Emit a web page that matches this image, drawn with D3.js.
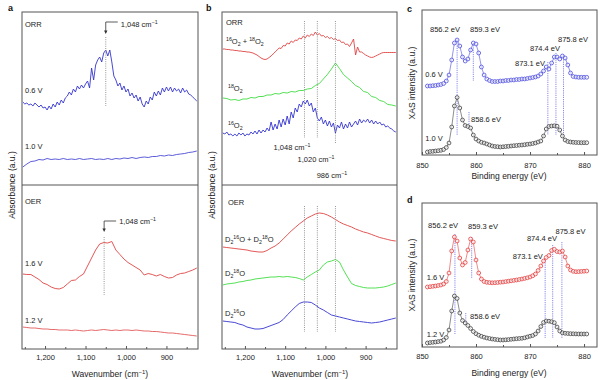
<!DOCTYPE html>
<html><head><meta charset="utf-8">
<script src="https://cdn.jsdelivr.net/npm/d3@7/dist/d3.min.js"></script>
<style>body{margin:0;background:#fff}svg{display:block;font-family:"Liberation Sans",Arial,sans-serif}</style>
</head><body>
<svg id="fig" width="600" height="380"></svg>
<script>
// ---------------- DATA ----------------
const irTicks = [1200, 1100, 1000, 900];
const irMinorTicks = [1250, 1150, 1050, 950, 850];
const xasTicks = [850, 860, 870, 880];
const xasMinorTicks = [855, 865, 875];
const IR_START = 1255;           // cm-1, first sample
const XAS_START = 851;           // eV, first sample
const XAS_STEP = 0.5;

// panel a (ORR), 5 cm-1 steps
const aORR_06V = [83,81,82,80,81,79,82,80,78,80,77,78,75,79,76,81,78,83,80,85,82,87,89,93,90,96,93,99,96,100,97,101,104,97,117,105,120,125,128,123,132,135,129,135,123,109,105,99,102,95,99,93,96,89,92,87,90,84,88,81,78,84,81,88,85,93,89,94,90,97,93,98,94,98,93,97,94,96,92,97,93,95,91,90,88,86,84];
// 10 cm-1 steps
const aORR_10V = [18,21,23.5,24,25.5,25,26.5,25.5,26,25.5,26.5,25.5,26,25.5,26.5,25.5,26,26.5,25.5,26,25.5,26.5,25.5,26.5,26,27,26.5,27.5,26.5,27.5,28,27.5,28.5,28.5,29.5,29,30,29.5,30.5,31,31.5,32.5,33,34];
const aOER_16V = [75,74.5,74.5,72,69.5,66,64.5,62,60.5,60,61.5,65,68.5,69,72.5,75,83,91,99,105,106.5,106,107.5,99,94.5,90,86.5,84,81.5,79,74,75.5,74.5,73,74.5,72.5,71,71.5,74,75.5,76,77.5,79,81];
const aOER_12V = [22,21.5,21,21,20.5,20,20,19.5,19.5,19,19,19,18.5,19,18.5,18,18.5,19,18.5,19,19.5,19,18.5,19,18.5,19,19,18.5,19,18.5,18,18,17.5,17.5,17,16.5,16,16,15.5,15,14.5,14,13.5,13];

// panel b (isotopes)
const bORR_mix = [136,136,135.5,135.5,135,135,134.5,134.5,134,134,133.5,133.5,133,133,132.5,132,131,130,128.5,127,126,125.5,126,127.5,129,131,133,135,
  137,136.5,139.5,139,142,141,144,142.5,145,144.5,147,146,149,147,150,148.5,151,149.5,153,150,151.5,149,149.5,147.5,148.5,146.5,147.5,145.5,146.5,144.5,145,142.5,143,140.5,141,138.5,142,146,130,138,133,
  133,131.5,130,129,128,127.5,128,129,130,131,132,132.5,132.5,132.5,132.5,132.5,132.5,132.5];          // 5 cm-1 steps
const bORR_18 = [87,86.5,85,85.5,84.5,86,86,87.5,87,88.5,88.5,90,90,91.5,91,92.5,92,93.5,93,94.5,94.5,96,96.5,99.5,101.5,106,110.5,116,122,116.5,110.5,107,103.5,99.5,97.5,93.5,92.5,88.5,87.5,84.5,83.5,80.5,80,79]; // 10 cm-1
const bORR_16 = [52,51,53,50,51,49,51,49,52,50,52,49,51,50,53,51,54,51,55,52,55,53,57,54,63,55,61,56,65,58,66,60,69,61,73,67,77,73,81,78,84,81,85,79,82,73,77,67,64,68,61,65,59,64,58,62,52,60,57,63,56,61,57,63,58,61,64,60,66,62,65,63,66,62,65,61,64,61,63,60,61,58,59,57,56,54,53]; // 5 cm-1
const bOER_mix = [102,101.5,101,100.5,100,99.5,99,98,97.5,97,97,98.5,101,103,106,110,114,118,121.5,125,128,131,133,135,136,135.5,134,132,129.5,127,125,123.5,122,120,118.5,117,116,114.5,113,111.5,110.5,109.5,108.5,108];
const bOER_18 = [64,65,65.5,66,67,67.5,68.5,69,70,70.5,71,71.5,72,72,72.5,72,72.5,72,71.5,70.5,69,72,74.5,77,79,84,87,88,89.5,87,79,72,65.5,63.5,62.5,61.5,61,61,61,61.5,62,63,64.5,66];
const bOER_16 = [28,27.5,27,26.5,25,24,22,21,20,20,20.5,22,23.5,25,26.5,29.5,34,38,42,45.5,47,47,46.5,44,41,39,36.5,34,33,32,31,30,29,28,27.5,27,26.5,26,26.5,27,28,29,30,31];
const aMarks = [1050, 1054];                  // dotted lines panel a (ORR, OER)
const bMarks = [1052, 1020, 975];             // dotted lines panel b
const bMarkLabels = ["1,048", "1,020", "986"];

// panel c, d: XAS, 0.5 eV steps from 851 eV
const cXAS_06V = [69,69,69.3,69.5,70,70.5,71.5,74,80,95,112,115,109,98,94,96,105,112,111,102,88,80,76,74.5,73.5,73.5,73.5,74,74,74.5,74.5,75,75,75.5,75.5,76,76,76.5,77,77.5,78,79,81,84,88,86,92,98,98,96,99,97,90,82,78.5,78,77.7,77.7,77.7,77.7];
const cXAS_10V = [3,3.5,3.7,4,4.3,4.7,5.5,7.5,12,28,49,57.5,47,35,29.5,28.5,27,20,16,14,12.7,12,11,10,9,8.5,8.3,8,8.2,8.5,8.7,9,9.3,9.5,9.8,10,10.3,10.7,11,11.5,12,13,14,19,26,28.5,29,29.2,28.8,25,19,15,13.5,13,12.7,12.5,12.4,12.3,12.3,12.3];
const dXAS_16V = [60,60.3,60.7,61,61.5,62,63,65.5,74,96,110,106,89,82,84.5,97,108,105,87,74,68,65.5,64.7,64.4,64.2,64.3,64.5,64.8,65,65.4,65.8,66.2,66.6,67,67.5,68,68.6,69.2,70,71.2,73,76.5,81,86,89.5,91.5,96.5,97.7,95.5,95,96,90,81,77,75.7,75.3,75.4,75.6,75.8,76];
const dXAS_12V = [4,4.4,4.7,5,5.4,5.8,7,9.5,17,36,51,48.5,34,26.5,24,21.5,18.5,15.5,13.3,11.8,10.7,9.8,9,8.5,8,7.6,7.3,7,7,7.2,7.4,7.7,8,8.3,8.5,8.7,9.2,10,10.8,11.5,13,16,20.5,24.5,26,25.8,25.3,24.3,20,16,14.2,13.7,13.5,13.3,13.2,13.1,13,13,13,13];
const peakLabels = ["856.2 eV", "859.3 eV", "858.6 eV", "873.1 eV", "874.4 eV", "875.8 eV"];
const cLineE = [856.5, 859.5, 858.7, 873.3, 874.8, 876.2];
const cLineTop = [116, 112, 43, 93, 102, 100];
const cLineBot = [20, 74, 27, 20, 20, 20];
const cLabelE = [854.26, 861.67, 859.07, 870.0, 872.78, 877.96];
const cLabelV = [123, 123, 33, 89, 104, 113];
const dLineE = [856.1, 859.2, 858.1, 872.8, 874.2, 875.9];
const dLineTop = [113, 110, 34, 89, 102, 105];
const dLineBot = [13, 69, 22, 9, 9, 9];
const dLabelE = [853.9, 861.3, 858.9, 869.6, 872.2, 877.5];
const dLabelV = [119, 118, 28, 88, 106, 113];

// ---------------- DRAWING ----------------
const svg = d3.select("#fig");
svg.append("rect").attr("width", 600).attr("height", 380).attr("fill", "#fff");
const FAM = '"Liberation Sans", Arial, sans-serif';
const TXT = "#222", FRAME = "#555", DOT = "#8a8a8a";
const BLUE = "#3434cf", RED = "#e04444", GREEN = "#3fdc3f", BLACK = "#404040";
const XBLUE = "#4b4be0", XRED = "#e43c3c", XLINE = "#7b7be6";

const irDomain = [1257, 822];
const xa = d3.scaleLinear().domain(irDomain).range([22, 198]);
const xb = d3.scaleLinear().domain(irDomain).range([222, 397]);
const yTop = d3.scaleLinear().domain([0, 173]).range([185, 12]);
const yBot = d3.scaleLinear().domain([0, 164]).range([349, 185]);
const xx = d3.scaleLinear().domain([850, 882.4]).range([422, 597]);
const yc = d3.scaleLinear().domain([0, 145]).range([155, 10]);
const yd = d3.scaleLinear().domain([0, 144]).range([347, 203]);

const pts = (arr, start, step) => arr.map((v, i) => [start + i * step, v]);
function curve(data, x, y, color, w) {
  svg.append("path").datum(data)
    .attr("d", d3.line().x(d => x(d[0])).y(d => y(d[1])))
    .attr("fill", "none").attr("stroke", color).attr("stroke-width", w || 0.9)
    .attr("stroke-linejoin", "round");
}
function rich(x, y, parts, opt) {
  opt = opt || {};
  const fs = opt.size || 7.5;
  const t = svg.append("text").attr("x", x).attr("y", y).attr("fill", TXT)
    .attr("font-size", fs).attr("font-family", FAM)
    .attr("text-anchor", opt.anchor || "start");
  if (opt.rotate) t.attr("transform", `rotate(${opt.rotate},${x},${y})`);
  let shift = 0;
  parts.forEach(p => {
    const s = typeof p === "string" ? p : p[0];
    const k = typeof p === "string" ? "" : p[1];
    const target = k === "sup" ? -fs * 0.38 : k === "sub" ? fs * 0.25 : 0;
    t.append("tspan").attr("dy", target - shift)
      .attr("font-size", k ? fs * 0.7 : fs).text(s);
    shift = target;
  });
  return t;
}
function vdots(x, y0, y1, color, dash) {
  svg.append("line").attr("x1", x).attr("x2", x).attr("y1", y0).attr("y2", y1)
    .attr("stroke", color).attr("stroke-width", 0.9).attr("stroke-dasharray", dash || "1,1.2");
}
function bottomAxis(x, yPos, major, minor, pad, fmt) {
  const g = svg.append("g").attr("transform", `translate(0,${yPos})`);
  g.call(d3.axisBottom(x).tickValues(major).tickFormat(fmt).tickSize(-3).tickPadding(pad));
  const g2 = svg.append("g").attr("transform", `translate(0,${yPos})`);
  g2.call(d3.axisBottom(x).tickValues(minor).tickFormat("").tickSize(-2));
  [g, g2].forEach(gg => {
    gg.select(".domain").remove();
    gg.attr("font-family", FAM).attr("font-size", 7.5);
    gg.selectAll("line").attr("stroke", FRAME);
    gg.selectAll("text").attr("fill", TXT);
  });
}

// ---- panel a ----
curve(pts(aORR_06V, IR_START, -5), xa, yTop, BLUE, 0.9);
curve(pts(aORR_10V, IR_START, -10), xa, yTop, BLUE, 0.8);
curve(pts(aOER_16V, IR_START, -10), xa, yBot, RED, 0.9);
curve(pts(aOER_12V, IR_START, -10), xa, yBot, RED, 0.8);
vdots(xa(aMarks[0]), 37, 106, DOT);
vdots(xa(aMarks[1]), 237, 295, DOT);
// arrows
[[aMarks[0], 22, 34, 27], [aMarks[1], 221, 232, 224]].forEach(([w, yh, tip, base]) => {
  const px = xa(w);
  svg.append("path").attr("d", `M${px + 12},${yh}H${px}V${tip - 3}`)
    .attr("fill", "none").attr("stroke", "#333").attr("stroke-width", 0.8);
  svg.append("path").attr("d", `M${px - 1.7},${tip - 3.5}L${px + 1.7},${tip - 3.5}L${px},${tip}Z`).attr("fill", "#333");
  rich(px + 15, base, ["1,048 cm", ["\u22121", "sup"]]);
});
rich(25, 27, ["ORR"]);
rich(25, 93, ["0.6 V"]);
rich(25, 149, ["1.0 V"]);
rich(25, 204, ["OER"]);
rich(25, 266, ["1.6 V"]);
rich(25, 323, ["1.2 V"]);

// ---- panel b ----
curve(pts(bORR_mix, IR_START, -5), xb, yTop, RED, 0.9);
curve(pts(bORR_18, IR_START, -10), xb, yTop, GREEN, 0.9);
curve(pts(bORR_16, IR_START, -5), xb, yTop, BLUE, 0.9);
curve(pts(bOER_mix, IR_START, -10), xb, yBot, RED, 0.9);
curve(pts(bOER_18, IR_START, -10), xb, yBot, GREEN, 0.9);
curve(pts(bOER_16, IR_START, -10), xb, yBot, BLUE, 0.9);
bMarks.forEach((w, i) => {
  vdots(xb(w), 21, i === 2 ? 144 : 138, DOT);
  vdots(xb(w), 206, 332, DOT);
});
rich(292, 150, [bMarkLabels[0] + " cm", ["\u22121", "sup"]], {anchor: "middle"});
rich(316, 162, [bMarkLabels[1] + " cm", ["\u22121", "sup"]], {anchor: "middle"});
rich(332, 178, [bMarkLabels[2] + " cm", ["\u22121", "sup"]], {anchor: "middle"});
rich(226, 25, ["ORR"]);
rich(226, 44, [["16", "sup"], "O", ["2", "sub"], " + ", ["18", "sup"], "O", ["2", "sub"]]);
rich(228, 91, [["18", "sup"], "O", ["2", "sub"]]);
rich(228, 128, [["16", "sup"], "O", ["2", "sub"]]);
rich(228, 205, ["OER"]);
rich(225, 242, ["D", ["2", "sub"], ["16", "sup"], "O + D", ["2", "sub"], ["18", "sup"], "O"]);
rich(225, 276, ["D", ["2", "sub"], ["18", "sup"], "O"]);
rich(225, 316, ["D", ["2", "sub"], ["16", "sup"], "O"]);

// IR frames, axes, titles
[[22, 176], [222, 175]].forEach(([x0, w]) => {
  svg.append("rect").attr("x", x0).attr("y", 12).attr("width", w).attr("height", 337)
    .attr("fill", "none").attr("stroke", FRAME).attr("stroke-width", 1);
  svg.append("line").attr("x1", x0).attr("x2", x0 + w).attr("y1", 185).attr("y2", 185)
    .attr("stroke", FRAME).attr("stroke-width", 1);
});
bottomAxis(xa, 349, irTicks, irMinorTicks, 6, d3.format(","));
bottomAxis(xb, 349, irTicks, irMinorTicks, 6, d3.format(","));
rich(110, 377, ["Wavenumber (cm", ["\u22121", "sup"], ")"], {anchor: "middle", size: 8.5});
rich(310, 377, ["Wavenumber (cm", ["\u22121", "sup"], ")"], {anchor: "middle", size: 8.5});
rich(15, 185, ["Absorbance (a.u.)"], {anchor: "middle", size: 8.5, rotate: -90});
rich(215, 185, ["Absorbance (a.u.)"], {anchor: "middle", size: 8.5, rotate: -90});

// ---- panels c, d (XAS) ----
function xasSeries(arr, y, color) {
  const d = pts(arr, XAS_START, XAS_STEP);
  curve(d, xx, y, color, 0.6);
  svg.append("g").selectAll("circle").data(d).join("circle")
    .attr("cx", p => xx(p[0])).attr("cy", p => y(p[1])).attr("r", 1.9)
    .attr("fill", "#fff").attr("fill-opacity", 0.6)
    .attr("stroke", color).attr("stroke-width", 0.8);
}
function xasMarks(y, E, top, bot, labE, labV) {
  E.forEach((e, i) => vdots(xx(e), y(top[i]), y(bot[i]), XLINE, "1.2,1"));
  peakLabels.forEach((t, i) => rich(xx(labE[i]), y(labV[i]), [t], {anchor: i === 2 ? "start" : "middle"}));
}
xasMarks(yc, cLineE, cLineTop, cLineBot, cLabelE, cLabelV);
xasSeries(cXAS_06V, yc, XBLUE);
xasSeries(cXAS_10V, yc, BLACK);
xasMarks(yd, dLineE, dLineTop, dLineBot, dLabelE, dLabelV);
xasSeries(dXAS_16V, yd, XRED);
xasSeries(dXAS_12V, yd, BLACK);
rich(xx(850.6), yc(78), ["0.6 V"]);
rich(xx(850.6), yc(14), ["1.0 V"]);
rich(xx(850.9), yd(67), ["1.6 V"]);
rich(xx(850.9), yd(10), ["1.2 V"]);
[[10, 145], [203, 144]].forEach(([y0, h]) => {
  svg.append("rect").attr("x", 422).attr("y", y0).attr("width", 175).attr("height", h)
    .attr("fill", "none").attr("stroke", FRAME).attr("stroke-width", 1);
});
bottomAxis(xx, 155, xasTicks, xasMinorTicks, 8, d3.format("d"));
bottomAxis(xx, 347, xasTicks, xasMinorTicks, 7, d3.format("d"));
rich(509, 179, ["Binding energy (eV)"], {anchor: "middle", size: 8.5});
rich(509, 376, ["Binding energy (eV)"], {anchor: "middle", size: 8.5});
rich(415, 83, ["XAS intensity (a.u.)"], {anchor: "middle", size: 8.5, rotate: -90});
rich(415, 275, ["XAS intensity (a.u.)"], {anchor: "middle", size: 8.5, rotate: -90});

// panel letters
[["a", 8, 11], ["b", 206, 11], ["c", 407, 12], ["d", 407, 203]].forEach(([s, x, y]) =>
  svg.append("text").attr("x", x).attr("y", y).attr("font-size", 9).attr("font-weight", "bold")
    .attr("font-family", FAM).attr("fill", "#111").text(s));
</script>
</body></html>
